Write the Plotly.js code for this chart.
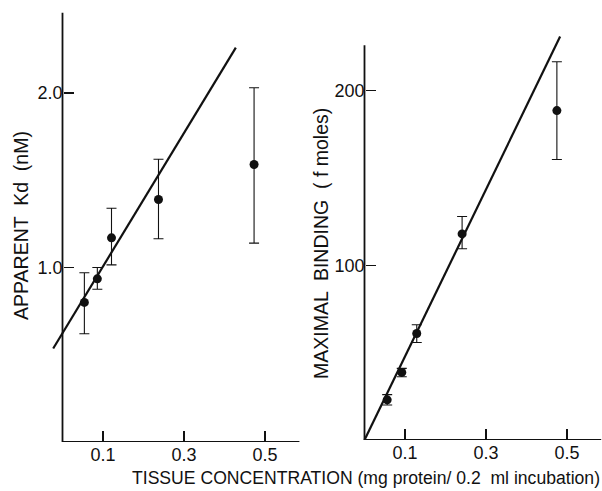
<!DOCTYPE html>
<html>
<head>
<meta charset="utf-8">
<script src="https://cdn.plot.ly/plotly-3.0.1.min.js"></script>
<style>html,body{margin:0;padding:0;background:#fff;}#chart{width:602px;height:491px;}</style>
</head>
<body>
<div id="chart"></div>
<script>
// ---- Data ----
// Left panel: apparent Kd (nM) vs tissue concentration
const kdX      = [0.054, 0.086, 0.121, 0.237, 0.473];
const kdY      = [0.80, 0.935, 1.17, 1.39, 1.59];
const kdErrHi  = [0.97, 1.00, 1.34, 1.62, 2.03];
const kdErrLo  = [0.62, 0.875, 1.015, 1.165, 1.14];
const kdFitX   = [-0.023, 0.428];
const kdFitY   = [0.536, 2.26];

// Right panel: maximal binding (f moles) vs tissue concentration
const bX       = [0.056, 0.092, 0.129, 0.241, 0.475];
const bY       = [23, 38.7, 61, 118, 188.6];
const bErrHi   = [26, 41, 66, 128, 216.6];
const bErrLo   = [20, 36.2, 55.8, 109.5, 160.6];
const bFitX    = [0, 0.483];
const bFitY    = [0, 231];

const xTickVals  = [0.1, 0.3, 0.5];
const xTickText  = ['0.1', '0.3', '0.5'];
const kdTickVals = [1.0, 2.0];
const kdTickText = ['1.0', '2.0'];
const bTickVals  = [100, 200];
const bTickText  = ['100', '200'];

// ---- Layout geometry (pixels) ----
const W = 602, H = 491;
const FONT = 'Liberation Sans, Arial, Helvetica, sans-serif';
const INK = '#111';
const px = v => v / W;
const py = v => 1 - v / H;

const L = {xr: [-0.03, 0.59], x0: 62.5, xs: 405, yr: [0, 2.47], y0: 442, ys: 174.5};
const R = {xr: [-0.01, 0.585], x0: 364.5, xs: 405, yr: [0, 232], y0: 440, ys: 1.7465};
function dom(P) {
  return {
    x: [px(P.x0 + P.xr[0] * P.xs), px(P.x0 + P.xr[1] * P.xs)],
    y: [py(P.y0), py(P.y0 - P.yr[1] * P.ys)]
  };
}
const dL = dom(L), dR = dom(R);

const diffs = (a, b) => a.map((v, i) => v - b[i]);

const traces = [
  {x: kdFitX, y: kdFitY, mode: 'lines', line: {color: INK, width: 2.2}, xaxis: 'x', yaxis: 'y', hoverinfo: 'skip'},
  {x: kdX, y: kdY, mode: 'markers', marker: {color: INK, size: 9},
   error_y: {type: 'data', symmetric: false, array: diffs(kdErrHi, kdY), arrayminus: diffs(kdY, kdErrLo),
             color: INK, thickness: 1.1, width: 5},
   xaxis: 'x', yaxis: 'y'},
  {x: bFitX, y: bFitY, mode: 'lines', line: {color: INK, width: 2.2}, xaxis: 'x2', yaxis: 'y2', hoverinfo: 'skip'},
  {x: bX, y: bY, mode: 'markers', marker: {color: INK, size: 9},
   error_y: {type: 'data', symmetric: false, array: diffs(bErrHi, bY), arrayminus: diffs(bY, bErrLo),
             color: INK, thickness: 1.1, width: 5},
   xaxis: 'x2', yaxis: 'y2'}
];

const tickFont = {family: FONT, size: 18, color: INK};
const xAxisCommon = {
  tickmode: 'array', tickvals: xTickVals, ticktext: xTickText,
  ticks: 'inside', ticklen: 11, tickwidth: 1.3, tickcolor: INK,
  showgrid: false, zeroline: false, showline: false, tickfont: tickFont, fixedrange: true
};
const yAxisCommon = {
  tickmode: 'array', ticks: 'inside', ticklen: 10, tickwidth: 1.3, tickcolor: INK,
  showgrid: false, zeroline: false, showline: false, tickfont: tickFont, fixedrange: true,
  anchor: 'free'
};

const layout = {
  width: W, height: H, autosize: false,
  margin: {l: 0, r: 0, t: 0, b: 0},
  paper_bgcolor: '#fff', plot_bgcolor: 'rgba(0,0,0,0)',
  showlegend: false,
  font: {family: FONT, color: INK},
  xaxis: Object.assign({}, xAxisCommon, {domain: dL.x, range: L.xr, anchor: 'y'}),
  yaxis: Object.assign({}, yAxisCommon, {domain: dL.y, range: L.yr, tickvals: kdTickVals, ticktext: kdTickText,
                                         position: px(L.x0)}),
  xaxis2: Object.assign({}, xAxisCommon, {domain: dR.x, range: R.xr, anchor: 'y2'}),
  yaxis2: Object.assign({}, yAxisCommon, {domain: dR.y, range: R.yr, tickvals: bTickVals, ticktext: bTickText,
                                          position: px(R.x0)}),
  shapes: [
    {type: 'line', xref: 'x', yref: 'y', x0: 0, x1: 0, y0: 0, y1: 2.46, line: {color: INK, width: 1.8}},
    {type: 'line', xref: 'x', yref: 'y', x0: 0, x1: 0.585, y0: 0, y1: 0, line: {color: INK, width: 1.8}},
    {type: 'line', xref: 'x2', yref: 'y2', x0: 0, x1: 0, y0: 0, y1: 226, line: {color: INK, width: 1.8}},
    {type: 'line', xref: 'x2', yref: 'y2', x0: 0, x1: 0.585, y0: 0, y1: 0, line: {color: INK, width: 1.8}}
  ],
  annotations: [
    {text: 'APPARENT  Kd  (nM)', textangle: -90, xref: 'paper', yref: 'paper',
     x: px(21), y: py(226), showarrow: false, xanchor: 'center', yanchor: 'middle',
     font: {family: FONT, size: 19.5, color: INK}},
    {text: 'MAXIMAL  BINDING  ( f moles)', textangle: -90, xref: 'paper', yref: 'paper',
     x: px(321), y: py(244), showarrow: false, xanchor: 'center', yanchor: 'middle',
     font: {family: FONT, size: 19.5, color: INK}},
    {text: 'TISSUE CONCENTRATION (mg protein/ 0.2  ml incubation)', xref: 'paper', yref: 'paper',
     x: px(366), y: py(478), showarrow: false, xanchor: 'center', yanchor: 'middle',
     font: {family: FONT, size: 17.6, color: INK}}
  ]
};

Plotly.newPlot('chart', traces, layout, {staticPlot: true, displayModeBar: false});
</script>
</body>
</html>
